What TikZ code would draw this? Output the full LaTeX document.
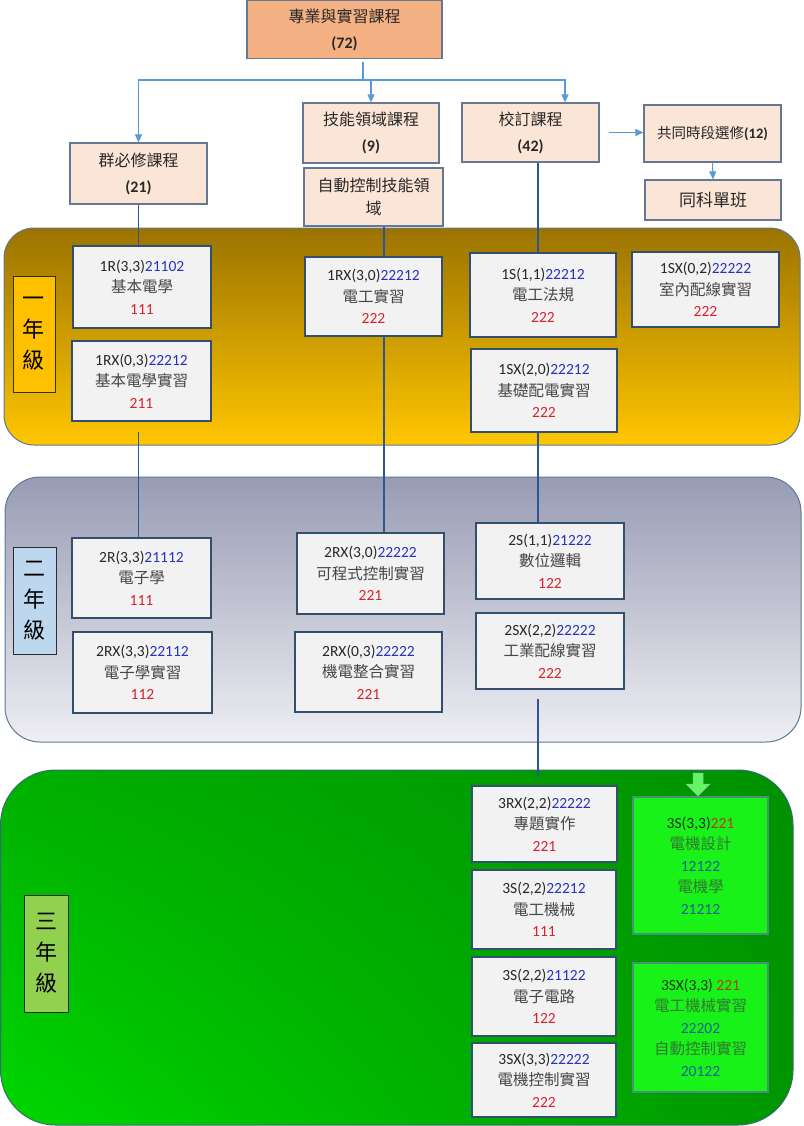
\documentclass[tikz,border=0pt]{standalone}
\usepackage{fontspec}
\setmainfont{Carlito}
\newfontfamily\cjk{Noto Sans CJK TC}
\usepackage{xcolor}
\usepackage{tikz}
\usetikzlibrary{arrows.meta, calc, shadings}
\definecolor{CourseBlue}{RGB}{40, 50, 190}
\definecolor{CourseRed}{RGB}{215, 35, 45}
\definecolor{CourseGray}{RGB}{70, 70, 70}
\definecolor{TextDark}{RGB}{40, 40, 40}
\definecolor{BoxGray}{RGB}{242, 242, 242}
\definecolor{BoxEdge}{RGB}{50, 80, 110}
\definecolor{PeachFill}{RGB}{251, 229, 214}
\definecolor{PeachEdge}{RGB}{100, 120, 150}
\definecolor{SalmonFill}{RGB}{244, 177, 131}
\definecolor{ArrowBlue}{RGB}{91, 155, 213}
\definecolor{LinkBlue}{RGB}{47, 85, 151}
\definecolor{BandEdge}{RGB}{95, 120, 150}
\definecolor{GoldTop}{RGB}{155, 115, 0}
\definecolor{GoldBottom}{RGB}{255, 198, 0}
\definecolor{SlateTop}{RGB}{152, 156, 180}
\definecolor{SlateBottom}{RGB}{238, 238, 243}
\definecolor{GreenUL}{RGB}{0, 175, 0}
\definecolor{GreenUR}{RGB}{0, 145, 0}
\definecolor{GreenLL}{RGB}{0, 215, 0}
\definecolor{GreenLR}{RGB}{0, 150, 0}
\definecolor{GreenEdge}{RGB}{50, 110, 110}
\definecolor{LimeFill}{RGB}{25, 242, 25}
\definecolor{LimeEdge}{RGB}{70, 145, 120}
\definecolor{LimeText}{RGB}{50, 120, 50}
\definecolor{LimeCode}{RGB}{25, 95, 145}
\definecolor{LimeRed}{RGB}{180, 60, 20}
\definecolor{LimeDark}{RGB}{15, 55, 15}
\definecolor{LimeArrow}{RGB}{100, 245, 100}
\definecolor{LabelGold}{RGB}{255, 192, 0}
\definecolor{LabelBlue}{RGB}{189, 215, 238}
\definecolor{LabelGreen}{RGB}{146, 208, 80}
\definecolor{LabelEdge}{RGB}{45, 45, 45}

\newcommand{\coursecell}[4]{#1{\color{CourseBlue}#2}\\{\cjk\color{CourseGray}#3}\\{\color{CourseRed}#4}}

\tikzset{
  salmonbox/.style={rectangle, fill=SalmonFill, draw=PeachEdge, line width=1.2pt,
    align=center, inner sep=2pt, text=TextDark, font=\fontsize{16}{26}\selectfont},
  peachbox/.style={rectangle, fill=PeachFill, draw=PeachEdge, line width=1.2pt,
    align=center, inner sep=2pt, text=TextDark, font=\fontsize{16}{26}\selectfont},
  coursebox/.style={rectangle, fill=BoxGray, draw=BoxEdge, line width=1.3pt,
    align=center, inner sep=2pt, text=TextDark, font=\fontsize{15.5}{21.5}\selectfont},
  limebox/.style={rectangle, fill=LimeFill, draw=LimeEdge, line width=1.2pt,
    align=center, inner sep=2pt, text=LimeDark, font=\fontsize{15.5}{21.5}\selectfont},
  yearlabel/.style={rectangle, draw=LabelEdge, line width=1pt, align=center,
    inner sep=2pt, text=black, font=\cjk\fontsize{22}{31}\selectfont},
  link/.style={draw=LinkBlue, line width=1.6pt},
  branch/.style={draw=ArrowBlue, line width=1.1pt, -{Triangle[length=8pt, width=7pt]}},
  branchline/.style={draw=ArrowBlue, line width=1.1pt}
}

\begin{document}
\begin{tikzpicture}[x=1pt, y=-1pt]
    \useasboundingbox (0,0) rectangle (803,1126);

    \shade[top color=GoldTop, bottom color=GoldBottom, draw=BandEdge, line width=1pt,
      rounded corners=30pt] (4,228) rectangle (800,445);
    \shade[top color=SlateTop, bottom color=SlateBottom, draw=BandEdge, line width=1pt,
      rounded corners=35pt] (5,477) rectangle (801,742);
    \shade[upper left=GreenUL, upper right=GreenUR, lower left=GreenLL, lower right=GreenLR,
      draw=GreenEdge, line width=1pt, rounded corners=55pt] (0.5,770) rectangle (793,1125);

    \node[salmonbox, minimum width=195pt, minimum height=58pt] (core) at (344.5,29.5)
      {{\cjk 專業與實習課程}\\\textbf{(72)}};
    \node[peachbox, minimum width=137pt, minimum height=61pt] (group) at (138.5,173.5)
      {{\cjk 群必修課程}\\\textbf{(21)}};
    \node[peachbox, minimum width=136pt, minimum height=60pt] (skill) at (371,133)
      {{\cjk 技能領域課程}\\\textbf{(9)}};
    \node[peachbox, minimum width=139pt, minimum height=58pt, font=\fontsize{16}{23}\selectfont]
      (auto) at (373.5,197) {{\cjk 自動控制技能領}\\{\cjk 域}};
    \node[peachbox, minimum width=137pt, minimum height=59pt] (school) at (530.5,132.5)
      {{\cjk 校訂課程}\\\textbf{(42)}};
    \node[peachbox, minimum width=137pt, minimum height=57pt, font=\fontsize{14.5}{20}\selectfont]
      (elective) at (712.5,133.5) {{\cjk 共同時段選修}\textbf{(12)}};
    \node[peachbox, minimum width=136pt, minimum height=40pt, font=\fontsize{17}{22}\selectfont]
      (single) at (713,200) {{\cjk 同科單班}};

    \node[yearlabel, fill=LabelGold, minimum width=42pt, minimum height=116pt] (first) at (34,334)
      {一\\年\\級};
    \node[yearlabel, fill=LabelBlue, minimum width=43pt, minimum height=107pt] (second) at (34.5,600.5)
      {二\\年\\級};
    \node[yearlabel, fill=LabelGreen, minimum width=44pt, minimum height=117pt] (third) at (46,953.5)
      {三\\年\\級};

    \node[coursebox, minimum width=138pt, minimum height=82pt] (basic) at (142,287)
      {\coursecell{1R(3,3)}{21102}{基本電學}{111}};
    \node[coursebox, minimum width=139pt, minimum height=80pt] (basiclab) at (141.5,381)
      {\coursecell{1RX(0,3)}{22212}{基本電學實習}{211}};
    \node[coursebox, minimum width=137pt, minimum height=79pt] (wiring) at (373.5,296.5)
      {\coursecell{1RX(3,0)}{22212}{電工實習}{222}};
    \node[coursebox, minimum width=146pt, minimum height=84pt] (law) at (543,295)
      {\coursecell{1S(1,1)}{22212}{電工法規}{222}};
    \node[coursebox, minimum width=147pt, minimum height=75pt] (indoor) at (705.5,289.5)
      {\coursecell{1SX(0,2)}{22222}{室內配線實習}{222}};
    \node[coursebox, minimum width=146pt, minimum height=83pt] (distrib) at (544,390.5)
      {\coursecell{1SX(2,0)}{22212}{基礎配電實習}{222}};

    \node[coursebox, minimum width=139pt, minimum height=80pt] (elec) at (141.5,578)
      {\coursecell{2R(3,3)}{21112}{電子學}{111}};
    \node[coursebox, minimum width=139pt, minimum height=81pt] (eleclab) at (142.5,672.5)
      {\coursecell{2RX(3,3)}{22112}{電子學實習}{112}};
    \node[coursebox, minimum width=147pt, minimum height=81pt] (plc) at (370.5,573.5)
      {\coursecell{2RX(3,0)}{22222}{可程式控制實習}{221}};
    \node[coursebox, minimum width=147pt, minimum height=80pt] (mecha) at (368.5,672)
      {\coursecell{2RX(0,3)}{22222}{機電整合實習}{221}};
    \node[coursebox, minimum width=148pt, minimum height=76pt] (logic) at (550,561)
      {\coursecell{2S(1,1)}{21222}{數位邏輯}{122}};
    \node[coursebox, minimum width=148pt, minimum height=76pt] (industrial) at (550,651)
      {\coursecell{2SX(2,2)}{22222}{工業配線實習}{222}};

    \node[coursebox, minimum width=145pt, minimum height=76pt] (project) at (544.5,824)
      {\coursecell{3RX(2,2)}{22222}{專題實作}{221}};
    \node[coursebox, minimum width=144pt, minimum height=79pt] (machine) at (544,909.5)
      {\coursecell{3S(2,2)}{22212}{電工機械}{111}};
    \node[coursebox, minimum width=144pt, minimum height=79pt] (circuit) at (544,996.5)
      {\coursecell{3S(2,2)}{21122}{電子電路}{122}};
    \node[coursebox, minimum width=144pt, minimum height=74pt] (control) at (544,1080)
      {\coursecell{3SX(3,3)}{22222}{電機控制實習}{222}};

    \node[limebox, minimum width=135pt, minimum height=137pt] (design) at (700.5,865.5)
      {3S(3,3){\color{LimeRed}221}\\{\cjk\color{LimeText}電機設計}\\{\color{LimeCode}12122}\\
       {\cjk\color{LimeText}電機學}\\{\color{LimeCode}21212}};
    \node[limebox, minimum width=135pt, minimum height=129pt] (machinelab) at (700.5,1027.5)
      {3SX(3,3) {\color{LimeRed}221}\\{\cjk\color{LimeText}電工機械實習}\\{\color{LimeCode}22202}\\
       {\cjk\color{LimeText}自動控制實習}\\{\color{LimeCode}20122}};

    \fill[LimeArrow, draw=LimeEdge!60, line width=0.5pt] (693,773) -- (703,773) -- (703,784)
      -- (710,784) -- (698,796) -- (686,784) -- (693,784) -- cycle;

    \coordinate (hub) at (363,80);
    \draw[branchline] ([xshift=18.5pt, yshift=-3pt]core.south) -- (hub);
    \draw[branch] (hub) -| (group.north);
    \draw[branch] (hub) -| (skill.north);
    \draw[branch] (hub) -| ([xshift=34.5pt]school.north);
    \draw[branch, shorten <=9pt] (school.east) -- (school.east -| elective.west);
    \draw[branch] (elective.south) -- (single.north);

    \draw[link] (group.south) -- (group.south |- basic.north);
    \draw[link, shorten <=10pt] (group.south |- basiclab.south) -- (group.south |- elec.north);
    \draw[link] ([xshift=10.5pt]auto.south) -- ([xshift=10.5pt]auto.south |- wiring.north);
    \draw[link] ([xshift=10.5pt]auto.south |- wiring.south) -- ([xshift=10.5pt]auto.south |- plc.north);
    \draw[link] ([xshift=7.5pt]school.south) -- ([xshift=7.5pt]school.south |- law.north);
    \draw[link] ([xshift=7.5pt]school.south |- distrib.south) -- ([xshift=7.5pt]school.south |- logic.north);
    \draw[link, shorten <=9pt, shorten >=8pt] ([xshift=7.5pt]school.south |- industrial.south)
      -- ([xshift=7.5pt]school.south |- project.north);
  \end{tikzpicture}
\end{document}
